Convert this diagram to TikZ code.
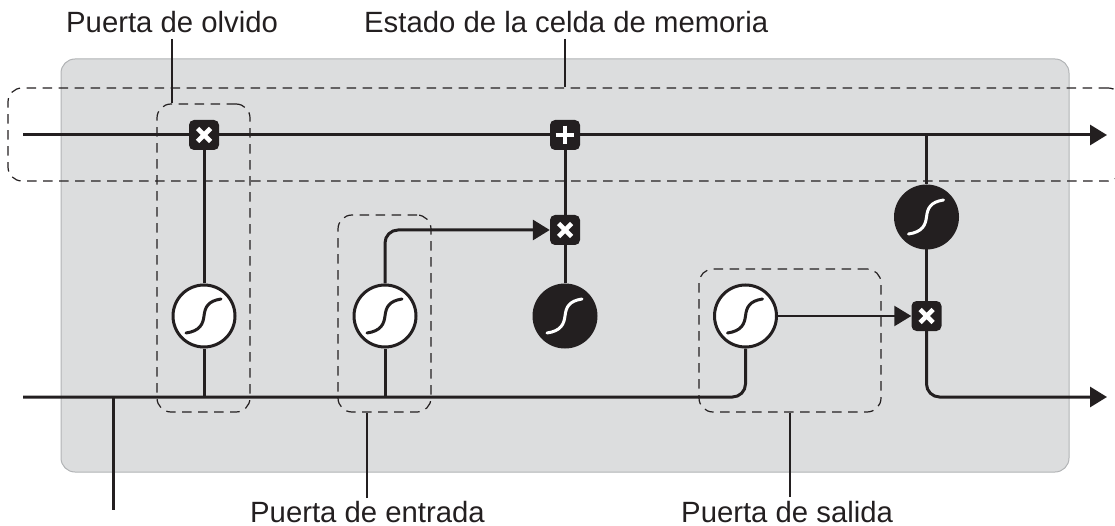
\documentclass[tikz,border=0pt]{standalone}
\usepackage{fontspec}
\setmainfont{Liberation Sans}
\usetikzlibrary{arrows.meta}
\definecolor{ink}{HTML}{231F20}
\definecolor{panelfill}{HTML}{DCDDDE}
\definecolor{panelline}{HTML}{B1B3B5}
\tikzset{
  wire/.style={draw=ink,line width=3pt},
  flow/.style={wire,-{Triangle[length=17pt,width=20pt]}},
  leader/.style={draw=ink,line width=1.2pt},
  gatebox/.style={draw=ink,line width=1.2pt,dash pattern=on 9.5pt off 6.5pt,rounded corners=14pt},
  labeltext/.style={font=\fontsize{29.3pt}{31pt}\selectfont,text=ink,inner sep=0pt,anchor=base west},
  opbox/.style={fill=ink,rounded corners=5pt,minimum size=30pt,inner sep=0pt},
  timesop/.style={opbox,path picture={
    \draw[white,line width=4.6pt]
      ([shift={(-6.5,-6.5)}]path picture bounding box.center) -- ([shift={(6.5,6.5)}]path picture bounding box.center)
      ([shift={(-6.5,6.5)}]path picture bounding box.center) -- ([shift={(6.5,-6.5)}]path picture bounding box.center);}},
  plusop/.style={opbox,path picture={
    \draw[white,line width=4.6pt]
      ([shift={(-9.3,0)}]path picture bounding box.center) -- ([shift={(9.3,0)}]path picture bounding box.center)
      ([shift={(0,-9.3)}]path picture bounding box.center) -- ([shift={(0,9.3)}]path picture bounding box.center);}},
  sigmoid/.style={circle,draw=ink,line width=3pt,fill=#1,minimum size=62pt,inner sep=0pt},
  sigcurve/.style={line width=3pt,line cap=round,path picture={
    \draw[#1,line width=3pt]
      ([shift={(-18,17)}]path picture bounding box.center)
      .. controls ([shift={(-4,15)}]path picture bounding box.center) and ([shift={(-1,8)}]path picture bounding box.center) .. (path picture bounding box.center)
      .. controls ([shift={(1,-9)}]path picture bounding box.center) and ([shift={(4,-15)}]path picture bounding box.center) .. ([shift={(17,-17)}]path picture bounding box.center);}},
}
\begin{document}
\begin{tikzpicture}[x=1pt,y=-1pt]
\useasboundingbox (0,0) rectangle (1115,526);
% panel
\node[draw=panelline,fill=panelfill,line width=1pt,rounded corners=14pt,minimum width=1008pt,minimum height=413pt,inner sep=0pt] (panel) at (565,265.5) {};
% dashed groups
\node[gatebox,minimum width=1114pt,minimum height=93pt,inner sep=0pt] (cellbox) at (565,134.5) {};
\node[gatebox,minimum width=93pt,minimum height=308pt,inner sep=0pt] (forgetbox) at (203.5,258) {};
\node[gatebox,minimum width=93pt,minimum height=197pt,inner sep=0pt] (inputbox) at (384.5,313.5) {};
\node[gatebox,minimum width=182pt,minimum height=143pt,inner sep=0pt] (outputbox) at (790,340.5) {};
% operators
\node[timesop] (mulA) at (204,135) {};
\node[plusop] (addA) at (565,135) {};
\node[timesop] (mulB) at (565,230) {};
\node[timesop] (mulD) at (926.5,316) {};
\node[sigmoid=white,sigcurve=ink] (sigA) at (204,316) {};
\node[sigmoid=white,sigcurve=ink] (sigB) at (385,316) {};
\node[sigmoid=ink,sigcurve=white] (sigM) at (565,316) {};
\node[sigmoid=white,sigcurve=ink] (sigC) at (745.5,316) {};
\node[sigmoid=ink,sigcurve=white] (sigD) at (926.5,217) {};
% free ends
\coordinate (topin) at (23,135);
\coordinate (topout) at (1107,135);
\coordinate (botin) at (23,397);
\coordinate (botout) at (1107,397);
\coordinate (tap) at (926.5,135);
\coordinate (feed) at (113.5,397);
\coordinate (feedend) at (113.5,510);
\coordinate (jA) at (204,397);
\coordinate (jB) at (385,397);
% wires
\draw[wire] (topin) -- (mulA);
\draw[wire] (mulA) -- (addA);
\draw[flow] (addA) -- (topout);
\draw[wire] (tap) -- (sigD);
\draw[wire] (sigD) -- (mulD);
\draw[flow,rounded corners=13pt] (mulD) |- (botout);
\draw[wire] (mulA) -- (sigA);
\draw[wire] (addA) -- (mulB);
\draw[wire] (mulB) -- (sigM);
\draw[flow,rounded corners=13pt] (sigB) |- (mulB);
\draw[flow,line width=2.4pt] (sigC) -- (mulD);
\draw[wire,rounded corners=13pt] (botin) -| (sigC);
\draw[wire] (sigA) -- (jA);
\draw[wire] (sigB) -- (jB);
\draw[wire] (feed) -- (feedend);
% labels
\node[labeltext] (lblOlvido) at (66,33) {Puerta de olvido};
\node[labeltext] (lblEstado) at (364,33) {Estado de la celda de memoria};
\node[labeltext] (lblEntrada) at (250,522) {Puerta de entrada};
\node[labeltext] (lblSalida) at (681,522) {Puerta de salida};
% leaders
\coordinate (lo) at (172,39);
\coordinate (le) at (565,39);
\coordinate (li) at (367,498);
\coordinate (ls) at (790,497);
\draw[leader] (lo) -- (lo |- forgetbox.north);
\draw[leader] (le) -- (le |- cellbox.north);
\draw[leader] (li) -- (li |- inputbox.south);
\draw[leader] (ls) -- (ls |- outputbox.south);
\end{tikzpicture}
\end{document}
